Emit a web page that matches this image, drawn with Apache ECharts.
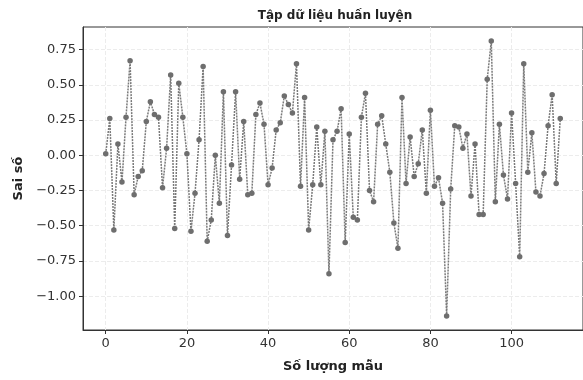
<!DOCTYPE html>
<html>
<head>
<meta charset="utf-8">
<title>Tập dữ liệu huấn luyện</title>
<script src="https://cdn.jsdelivr.net/npm/echarts@6/dist/echarts.min.js"></script>
<style>
  html, body { margin: 0; padding: 0; background: #fff; }
  #chart { width: 583px; height: 380px; }
</style>
</head>
<body>
<div id="chart"></div>
<script>
// sai số của từng mẫu
var errors = [
  0.01, 0.26, -0.53, 0.08, -0.19, 0.27, 0.67, -0.28, -0.15, -0.11,
  0.24, 0.38, 0.29, 0.27, -0.23, 0.05, 0.57, -0.52, 0.51, 0.27,
  0.01, -0.54, -0.27, 0.11, 0.63, -0.61, -0.46, 0.00, -0.34, 0.45,
  -0.57, -0.07, 0.45, -0.17, 0.24, -0.28, -0.27, 0.29, 0.37, 0.22,
  -0.21, -0.09, 0.18, 0.23, 0.42, 0.36, 0.30, 0.65, -0.22, 0.41,
  -0.53, -0.21, 0.20, -0.21, 0.17, -0.84, 0.11, 0.17, 0.33, -0.62,
  0.15, -0.44, -0.46, 0.27, 0.44, -0.25, -0.33, 0.22, 0.28, 0.08,
  -0.12, -0.48, -0.66, 0.41, -0.20, 0.13, -0.15, -0.06, 0.18, -0.27,
  0.32, -0.22, -0.16, -0.34, -1.14, -0.24, 0.21, 0.20, 0.05, 0.15,
  -0.29, 0.08, -0.42, -0.42, 0.54, 0.81, -0.33, 0.22, -0.14, -0.31,
  0.30, -0.20, -0.72, 0.65, -0.12, 0.16, -0.26, -0.29, -0.13, 0.21,
  0.43, -0.20, 0.26
];
var xTicks = [0, 20, 40, 60, 80, 100];
var yTicks = [-1.0, -0.75, -0.5, -0.25, 0.0, 0.25, 0.5, 0.75];

var points = errors.map(function (v, i) { return [i, v]; });

function fmtY(v) {
  return v.toFixed(2).replace('-', '\u2212');
}

var font = 'DejaVu Sans';
var option = {
  backgroundColor: '#fff',
  animation: false,
  title: {
    text: 'Tập dữ liệu huấn luyện',
    left: 330,
    textAlign: 'center',
    top: 5,
    textStyle: { fontFamily: font, fontSize: 12, fontWeight: 'bold', color: '#222' }
  },
  grid: {
    left: 83, top: 27, right: -7, bottom: 50,
    show: true, borderColor: '#333', borderWidth: 1, backgroundColor: 'transparent'
  },
  xAxis: {
    type: 'value',
    min: -5.6,
    max: 117.6,
    name: 'Số lượng mẫu',
    nameLocation: 'middle',
    nameGap: 30,
    nameTextStyle: { fontFamily: font, fontSize: 13, fontWeight: 'bold', color: '#222' },
    axisLine: { show: true, onZero: false, lineStyle: { color: '#333' } },
    axisTick: { show: true, length: 4, customValues: xTicks, lineStyle: { color: '#333' } },
    axisLabel: { customValues: xTicks, fontFamily: font, fontSize: 13, color: '#333', margin: 7 },
    splitLine: { show: true, lineStyle: { color: '#ececec', type: 'dashed' } }
  },
  yAxis: {
    type: 'value',
    min: -1.24,
    max: 0.91,
    name: 'Sai số',
    nameLocation: 'middle',
    nameGap: 58,
    nameTextStyle: { fontFamily: font, fontSize: 13, fontWeight: 'bold', color: '#222' },
    axisLine: { show: true, onZero: false, lineStyle: { color: '#333' } },
    axisTick: { show: true, length: 4, customValues: yTicks, lineStyle: { color: '#333' } },
    axisLabel: { customValues: yTicks, formatter: fmtY, fontFamily: font, fontSize: 13, color: '#333', margin: 7 },
    splitLine: { show: true, lineStyle: { color: '#ececec', type: 'dashed' } }
  },
  series: [{
    type: 'line',
    data: points,
    symbol: 'circle',
    symbolSize: 5.5,
    showSymbol: true,
    lineStyle: { color: '#7a7a7a', width: 1.5, type: [2, 1] },
    itemStyle: { color: '#6e6e6e' }
  }]
};

var chart = echarts.init(document.getElementById('chart'));
chart.setOption(option);
</script>
</body>
</html>
